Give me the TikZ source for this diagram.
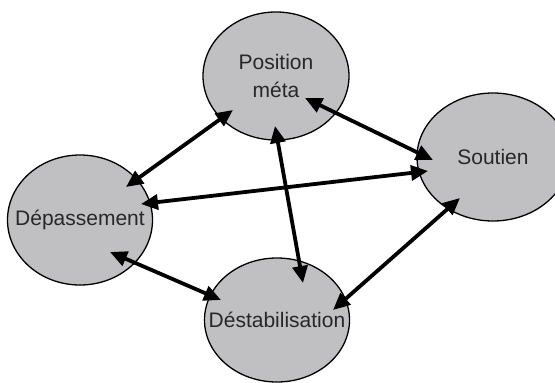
\documentclass[tikz,border=0pt]{standalone}
\usepackage{fontspec}
\setmainfont{Liberation Sans}
\usepackage{tikz}
\usetikzlibrary{
	arrows.meta,
	shapes.geometric
}
\definecolor{BubbleGray}{RGB}{192,192,194}
\definecolor{TextGray}{RGB}{40,38,40}

\begin{document}
\begin{tikzpicture}[x=1pt, y=-1pt,
		bubble/.style={ellipse, draw=black, line width=1.3pt, fill=BubbleGray, inner sep=0pt},
		word/.style={text=TextGray, align=center, font=\fontsize{21}{28}\selectfont},
		link/.style={{Triangle[length=17pt,width=15pt]}-{Triangle[length=17pt,width=15pt]},
			line width=3.8pt, black}]
		\useasboundingbox (0,0) rectangle (555,383);
		\clip (0,0) rectangle (555,383);
		
		\node[bubble, minimum width=146pt, minimum height=128pt,
			label={[word]center:Position\\méta}] (pm) at (276,76) {};
		\node[bubble, minimum width=152pt, minimum height=128pt,
			label={[word]center:Soutien}] (sou) at (493,157) {};
		\node[bubble, minimum width=145pt, minimum height=130pt,
			label={[word]center:Dépassement}] (dep) at (80,220) {};
		\node[bubble, minimum width=145pt, minimum height=124pt,
			label={[word]center:Déstabilisation}] (des) at (277,320) {};
		
		% arrow ends
		\coordinate (pm1) at (233,110);
		\coordinate (pm2) at (305,98);
		\coordinate (pm3) at (275,126);
		\coordinate (sou1) at (433,160);
		\coordinate (sou2) at (428,171);
		\coordinate (sou3) at (460,198);
		\coordinate (dep1) at (126,187);
		\coordinate (dep2) at (141,204);
		\coordinate (dep3) at (110,252);
		\coordinate (des1) at (303,283);
		\coordinate (des2) at (221,300);
		\coordinate (des3) at (333,310);
		
		\draw[link] (pm1) -- (dep1);
		\draw[link] (pm2) -- (sou1);
		\draw[link] (pm3) -- (des1);
		\draw[link] (dep2) -- (sou2);
		\draw[link] (dep3) -- (des2);
		\draw[link] (sou3) -- (des3);
	\end{tikzpicture}
\end{document}
